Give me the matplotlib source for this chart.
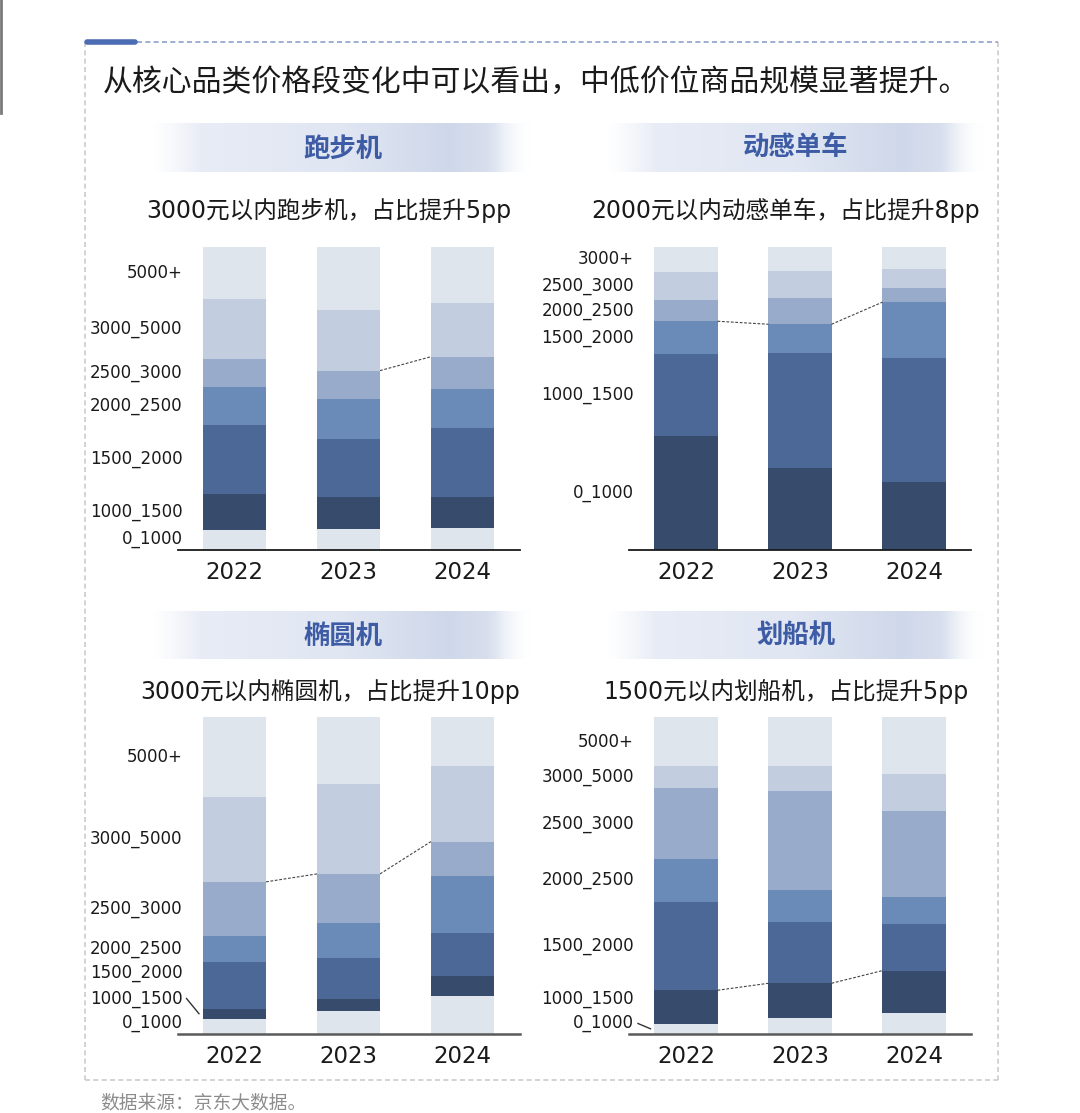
import numpy as np
import matplotlib
matplotlib.use("Agg")
import matplotlib.pyplot as plt
from matplotlib.colors import to_rgb

# ---------------- data ----------------
years = ["2022", "2023", "2024"]
cats7 = ["0_1000", "1000_1500", "1500_2000", "2000_2500", "2500_3000", "3000_5000", "5000+"]
cats6 = ["0_1000", "1000_1500", "1500_2000", "2000_2500", "2500_3000", "3000+"]

main_title = "从核心品类价格段变化中可以看出，中低价位商品规模显著提升。"
footer = "数据来源：京东大数据。"

treadmill_name = "跑步机"
treadmill_sub = "3000元以内跑步机，占比提升5pp"
treadmill_2022 = [6.5, 12.0, 22.9, 12.5, 9.1, 19.8, 17.2]
treadmill_2023 = [6.8, 10.7, 19.2, 13.0, 9.5, 20.0, 20.8]
treadmill_2024 = [7.4, 10.0, 22.9, 12.9, 10.6, 17.6, 18.6]

bike_name = "动感单车"
bike_sub = "2000元以内动感单车，占比提升8pp"
bike_2022 = [37.7, 27.0, 10.8, 6.9, 9.5, 8.1]
bike_2023 = [27.0, 37.9, 9.6, 8.8, 8.7, 8.0]
bike_2024 = [22.3, 41.0, 18.5, 4.6, 6.4, 7.2]

ellip_name = "椭圆机"
ellip_sub = "3000元以内椭圆机，占比提升10pp"
ellip_2022 = [4.8, 3.2, 14.7, 8.1, 17.2, 26.9, 25.1]
ellip_2023 = [7.4, 3.7, 12.8, 11.1, 15.5, 28.4, 21.1]
ellip_2024 = [12.1, 6.3, 13.5, 18.1, 10.7, 23.9, 15.4]

rower_name = "划船机"
rower_sub = "1500元以内划船机，占比提升5pp"
rower_2022 = [3.3, 10.5, 27.9, 13.6, 22.2, 7.0, 15.5]
rower_2023 = [4.9, 11.1, 19.2, 10.3, 31.0, 8.1, 15.4]
rower_2024 = [6.5, 13.5, 14.7, 8.6, 27.0, 11.8, 17.9]

# ---------------- style ----------------
W, H = 1080, 1113
CJK = ["Noto Sans CJK SC", "DejaVu Sans"]
MIX = ["DejaVu Sans", "Noto Sans CJK SC"]
palette = ["#dfe5ec", "#c2cde0", "#98abcb", "#6a8bb7", "#4b6897", "#374b6c"]  # light -> dark
BAR_W = 0.553

fig = plt.figure(figsize=(W / 100, H / 100), dpi=100)
bg = fig.add_axes([0, 0, 1, 1], zorder=0)
bg.axis("off")

# frame
dash = (0, (3, 2))
bg.plot([85, 85], [42, 1080], ls=dash, color="#cccccc", lw=1.2)
bg.plot([998, 998], [42, 1080], ls=dash, color="#cccccc", lw=1.2)
bg.plot([85, 998], [1080, 1080], ls=dash, color="#cccccc", lw=1.2)
bg.plot([137, 998], [42, 42], ls=dash, color="#8e9fcc", lw=1.2)
bg.plot([87, 135], [41.5, 41.5], color="#4c6db4", lw=4, solid_capstyle="round")
bg.plot([1, 1], [0, 113], color="#7a7a7a", lw=2)

bg.text(103, 82, main_title, fontsize=21.5, family=CJK, va="center", ha="left", color="#1a1a1a")
bg.text(100, 1103, footer, fontsize=13.5, family=CJK, va="center", ha="left", color="#8c8c8c")


def band(x0, x1, y0, y1):
    n = 500
    t = np.linspace(0, 1, n)
    stops_t = [0.0, 0.12, 0.5, 0.78, 0.9, 1.0]
    stops_c = [to_rgb(c) for c in ["#eef1f8", "#e8ecf6", "#e0e6f2", "#cfd8ea", "#d9e0ee", "#ffffff"]]
    img = np.zeros((1, n, 4))
    for k in range(3):
        img[0, :, k] = np.interp(t, stops_t, [c[k] for c in stops_c])
    img[0, :, 3] = np.clip(t / 0.13, 0, 1) * np.clip((1 - t) / 0.12, 0, 1)
    bg.imshow(img, extent=(x0, x1, y1, y0), aspect="auto", interpolation="bilinear", zorder=1)


panels = [
    dict(name=treadmill_name, sub=treadmill_sub, cats=cats7,
         vals=[treadmill_2022, treadmill_2023, treadmill_2024],
         link_n=5, link_gaps=[1],
         ax_px=(177.5, 247, 342, 303), band=(153, 533, 123, 172), name_xy=(343, 149),
         sub_xy=(329, 210), spine=("#1a1a1a", 1.3)),
    dict(name=bike_name, sub=bike_sub, cats=cats6,
         vals=[bike_2022, bike_2023, bike_2024],
         link_n=3, link_gaps=[0, 1],
         ax_px=(629, 247, 342, 303), band=(608, 985, 123, 172), name_xy=(796, 148),
         sub_xy=(785.5, 210), spine=("#1a1a1a", 1.3)),
    dict(name=ellip_name, sub=ellip_sub, cats=cats7,
         vals=[ellip_2022, ellip_2023, ellip_2024],
         link_n=5, link_gaps=[0, 1],
         ax_px=(177.5, 717, 342, 317), band=(153, 533, 611, 659), name_xy=(343, 636),
         sub_xy=(330.5, 692), spine=("#5a5a5a", 1.8)),
    dict(name=rower_name, sub=rower_sub, cats=cats7,
         vals=[rower_2022, rower_2023, rower_2024],
         link_n=2, link_gaps=[0, 1],
         ax_px=(629, 717, 342, 317), band=(608, 985, 611, 659), name_xy=(796, 636),
         sub_xy=(786.5, 692), spine=("#5a5a5a", 1.8)),
]

for p in panels:
    band(*p["band"])
    bg.text(*p["name_xy"], p["name"], fontsize=19, fontweight="bold", family=CJK,
            color="#3d5ca5", ha="center", va="center", zorder=3)
    bg.text(*p["sub_xy"], p["sub"], fontsize=17, family=MIX, color="#1a1a1a",
            ha="center", va="center")

    lx, ty, wpx, hpx = p["ax_px"]
    ax = fig.add_axes([lx / W, 1 - (ty + hpx) / H, wpx / W, hpx / H], zorder=2)
    ax.patch.set_alpha(0)
    vals = np.array(p["vals"])  # years x cats
    n = vals.shape[1]
    x = np.arange(len(years))
    bottoms = np.zeros(len(years))
    for j in range(n):
        ax.bar(x, vals[:, j], bottom=bottoms, width=BAR_W,
               color=palette[(n - 1 - j) % 6], linewidth=0, zorder=2)
        bottoms += vals[:, j]
    ax.set_xlim(-0.5, 2.5)
    ax.set_ylim(0, 100)
    for s in ["top", "right", "left"]:
        ax.spines[s].set_visible(False)
    ax.spines["bottom"].set_color(p["spine"][0])
    ax.spines["bottom"].set_linewidth(p["spine"][1])
    ax.spines["bottom"].set_zorder(4)
    ax.set_xticks([])
    ax.set_yticks([])

    # year labels
    for i, yr in enumerate(years):
        ax.annotate(yr, xy=(i, 0), xycoords=("data", "axes fraction"),
                    xytext=(0, -16.2), textcoords="offset points",
                    ha="center", va="center", fontsize=16.5, color="#1a1a1a")

    # connector dashed lines
    cum = vals[:, :p["link_n"]].sum(axis=1)
    for g in p["link_gaps"]:
        ax.plot([g + BAR_W / 2, g + 1 - BAR_W / 2], [cum[g], cum[g + 1]],
                ls=(0, (2.5, 1.5)), color="#444444", lw=0.8, zorder=3)

    # category labels at 2022 segment centres with de-overlap
    first = vals[0]
    edges = np.concatenate([[0], np.cumsum(first)])
    centres = (edges[:-1] + edges[1:]) / 2
    gap = 25 / hpx * 100
    floor = 10.5 / hpx * 100
    pos = []
    for j in range(n):
        yv = max(centres[j], floor) if j == 0 else max(centres[j], pos[-1] + gap)
        pos.append(yv)
    lab_x = -0.5 + 5 / 114
    for j in range(n):
        ax.text(lab_x, pos[j], p["cats"][j], ha="right", va="center",
                fontsize=12, color="#1a1a1a")
        if pos[j] > edges[j + 1] or pos[j] < edges[j]:
            ax.plot([-0.5 + 9 / 114, -BAR_W / 2 - 4 / 114], [pos[j], centres[j]],
                    color="#333333", lw=1.0, zorder=3, clip_on=False)

bg.set_xlim(0, W)
bg.set_ylim(H, 0)

fig.savefig("out.png", dpi=100, facecolor="white")
